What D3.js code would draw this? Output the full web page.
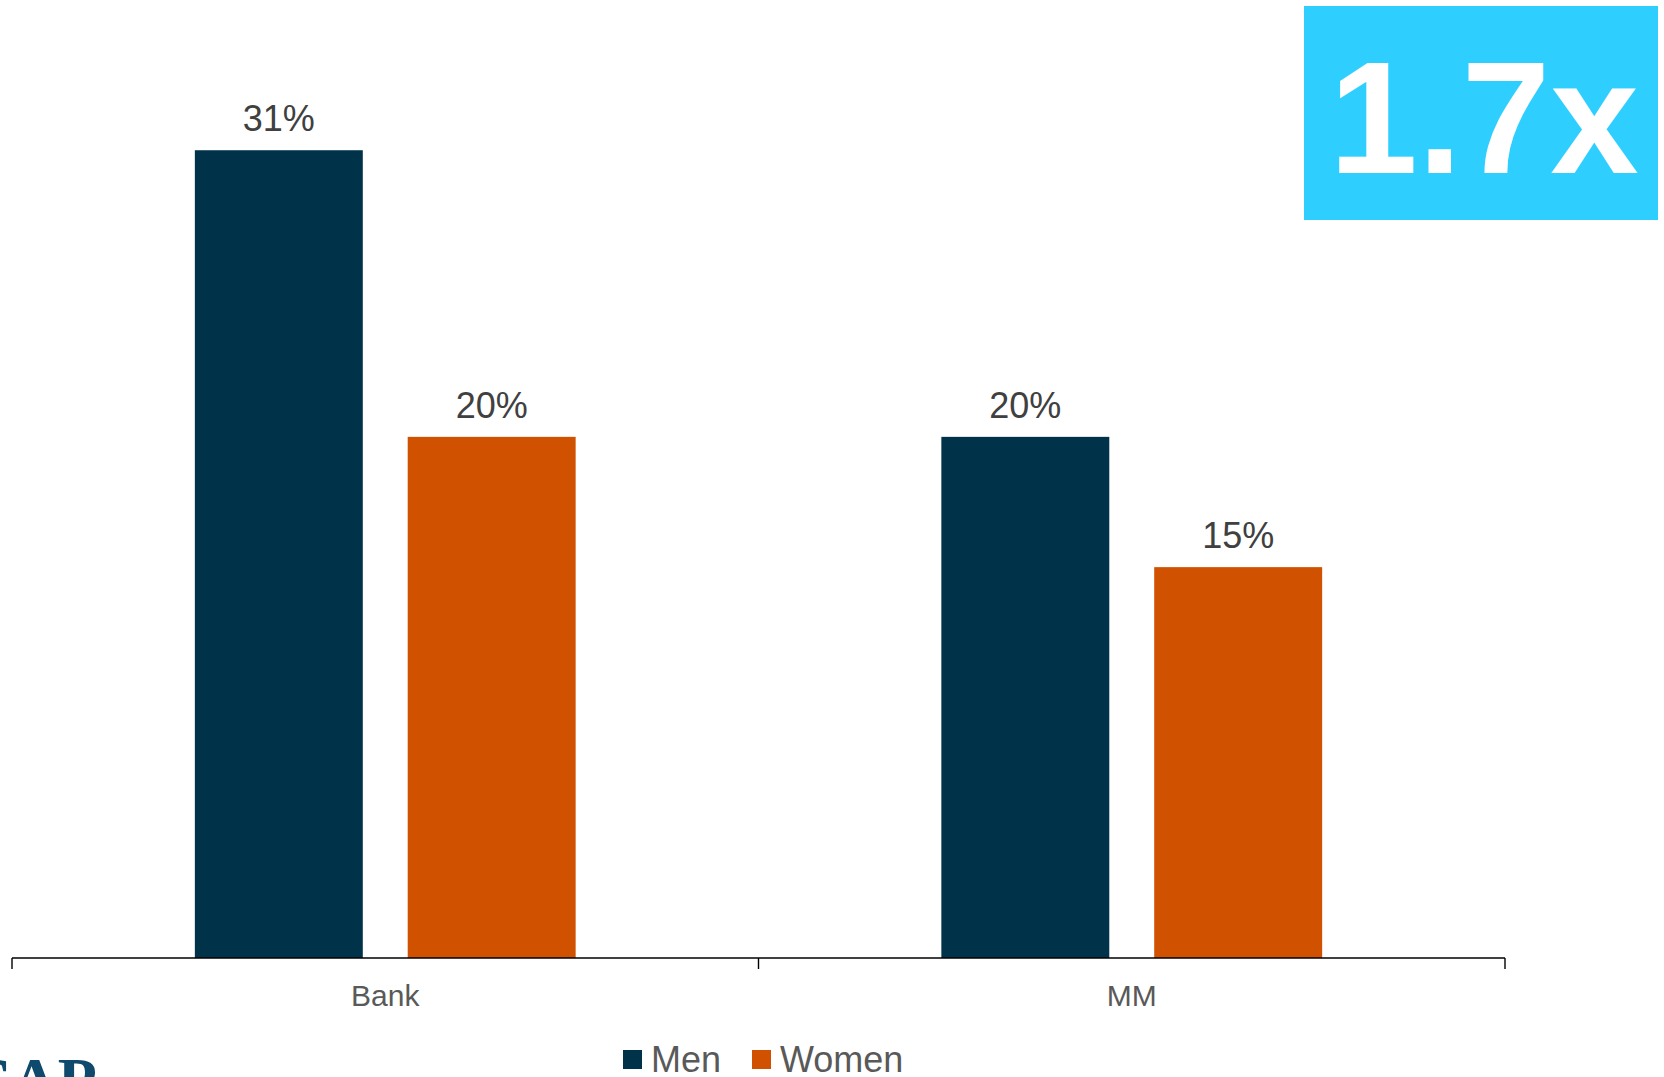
<!DOCTYPE html>
<html>
<head>
<meta charset="utf-8">
<script src="https://cdn.jsdelivr.net/npm/d3@7"></script>
<style>
  html, body { margin: 0; padding: 0; background: #fff; overflow: hidden; }
  svg { display: block; }
</style>
</head>
<body>
<svg id="chart" width="1664" height="1077"></svg>
<script>
const categories = ["Bank", "MM"];
const seriesNames = ["Men", "Women"];
const menValues = [0.31, 0.20];
const womenValues = [0.20, 0.15];
const valueLabels = [["31%", "20%"], ["20%", "15%"]];
const seriesColors = ["#003349", "#D05200"];
const calloutText = "1.7x";
const logoText = "SAP";

const svg = d3.select("#chart");
const font = "'Liberation Sans', Arial, Helvetica, sans-serif";

const x0 = d3.scaleBand().domain(categories).range([12, 1505]).padding(0);
const x1 = d3.scaleBand().domain(seriesNames).range([0, x0.bandwidth()])
  .paddingInner(0.211).paddingOuter(0.859);
const y = d3.scaleLinear().domain([0, 0.35]).range([958, 46]);

const data = categories.map((c, i) => ({
  cat: c,
  vals: [
    { s: "Men", v: menValues[i], label: valueLabels[i][0] },
    { s: "Women", v: womenValues[i], label: valueLabels[i][1] }
  ]
}));
const color = d3.scaleOrdinal().domain(seriesNames).range(seriesColors);

const groups = svg.selectAll("g.grp").data(data).enter().append("g")
  .attr("class", "grp")
  .attr("transform", d => `translate(${x0(d.cat)},0)`);

groups.selectAll("rect").data(d => d.vals).enter().append("rect")
  .attr("x", d => x1(d.s))
  .attr("y", d => y(d.v))
  .attr("width", x1.bandwidth())
  .attr("height", d => y(0) - y(d.v))
  .attr("fill", d => color(d.s));

groups.selectAll("text.val").data(d => d.vals).enter().append("text")
  .attr("class", "val")
  .attr("x", d => x1(d.s) + x1.bandwidth() / 2)
  .attr("y", d => y(d.v) - 19)
  .attr("text-anchor", "middle")
  .attr("font-family", font)
  .attr("font-size", 36)
  .attr("fill", "#404040")
  .text(d => d.label);

// Axis
const axis = d3.axisBottom(x0).tickSize(0).tickPadding(0).tickFormat(() => "");
const ag = svg.append("g").attr("transform", `translate(0,${y(0)})`).call(axis);
ag.select(".domain").remove();
ag.selectAll(".tick").remove();
ag.append("line").attr("x1", 12).attr("x2", 1505).attr("y1", 0).attr("y2", 0)
  .attr("stroke", "#000").attr("stroke-width", 1.6);
const boundaries = [x0.range()[0], ...categories.map(c => x0(c) + x0.bandwidth())];
ag.selectAll("line.tk").data(boundaries).enter().append("line")
  .attr("class", "tk")
  .attr("x1", d => d).attr("x2", d => d).attr("y1", 0).attr("y2", 11)
  .attr("stroke", "#000").attr("stroke-width", 1.4);
ag.selectAll("text.cat").data(categories).enter().append("text")
  .attr("class", "cat")
  .attr("x", d => x0(d) + x0.bandwidth() / 2)
  .attr("y", 48)
  .attr("text-anchor", "middle")
  .attr("font-family", font)
  .attr("font-size", 30)
  .attr("fill", "#595959")
  .text(d => d);

// Legend
const legendX = [623, 752];
const lg = svg.append("g");
seriesNames.forEach((s, i) => {
  lg.append("rect").attr("x", legendX[i]).attr("y", 1050).attr("width", 19).attr("height", 19)
    .attr("fill", color(s));
  lg.append("text").attr("x", legendX[i] + 28).attr("y", 1071.5)
    .attr("font-family", font).attr("font-size", 36).attr("fill", "#595959")
    .text(s);
});

// Callout box
svg.append("rect").attr("x", 1304).attr("y", 6).attr("width", 354).attr("height", 214)
  .attr("fill", "#2ECFFF");
svg.append("text").attr("x", 1484).attr("y", 172.5)
  .attr("text-anchor", "middle")
  .attr("font-family", font).attr("font-weight", "bold").attr("font-size", 159)
  .attr("fill", "#fff").text(calloutText);

// Partial logo
svg.append("text").attr("x", -24).attr("y", 1102)
  .attr("font-family", "'Liberation Serif', 'Times New Roman', serif")
  .attr("font-weight", "bold").attr("font-size", 64)
  .attr("fill", "#0E4A6E").text(logoText);
</script>
</body>
</html>
